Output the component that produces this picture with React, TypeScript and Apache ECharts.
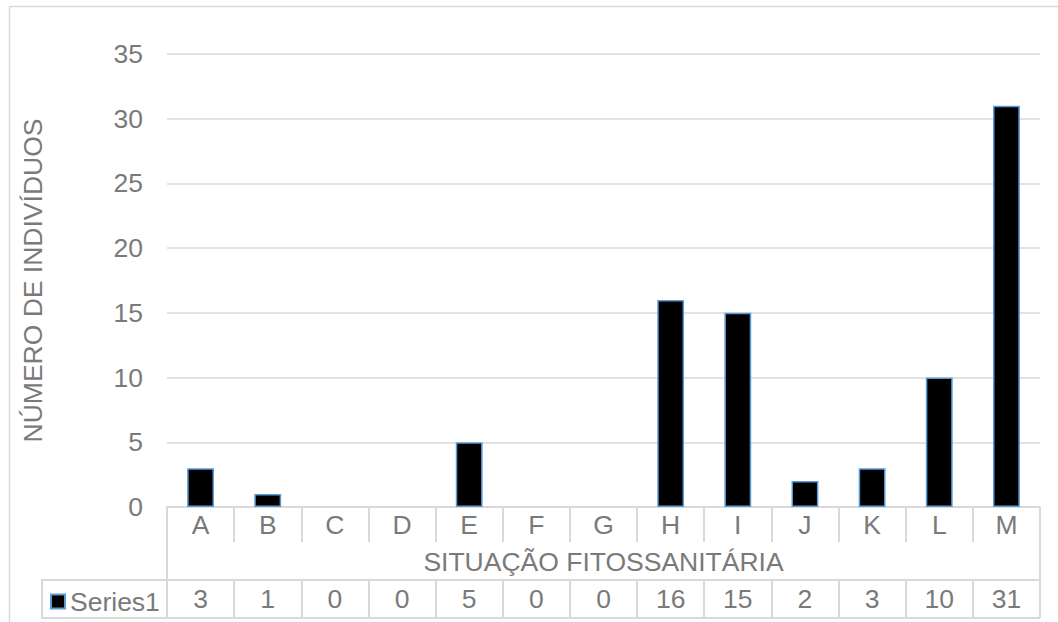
import React, { useEffect, useRef } from "react";
import * as echarts from "echarts";

const categories = ["A", "B", "C", "D", "E", "F", "G", "H", "I", "J", "K", "L", "M"];
const values = [3, 1, 0, 0, 5, 0, 0, 16, 15, 2, 3, 10, 31];
const seriesName = "Series1";
const xTitle = "SITUAÇÃO FITOSSANITÁRIA";
const yTitle = "NÚMERO DE INDIVÍDUOS";
const yMin = 0;
const yMax = 35;
const yStep = 5;

const FONT = 'Arial, "Liberation Sans", sans-serif';
const TXT = "#7a7a7a";
const GRID = "#d9d9d9";
const FS = 26.5;

export default function App() {
  const ref = useRef<HTMLDivElement>(null);
  useEffect(() => {
    if (!ref.current) return;
    document.body.style.margin = "0";
    document.documentElement.style.overflow = "hidden";
    document.body.style.overflow = "hidden";
    const chart = echarts.init(ref.current, null, { renderer: "svg" });
    const L = 167, R = 1040, T = 54, B = 507;
    chart.setOption({
      animation: false,
      backgroundColor: "#fff",
      textStyle: { fontFamily: FONT },
      grid: { left: L, right: 1058 - R, top: T, bottom: 622 - B, containLabel: false },
      legend: {
        data: [seriesName],
        left: 45,
        top: 583,
        itemWidth: 14,
        itemHeight: 14,
        icon: "rect",
        textStyle: { fontFamily: FONT, fontSize: FS, color: TXT },
      },
      xAxis: [
        {
          type: "category",
          data: categories,
          position: "bottom",
          axisLine: { show: true, lineStyle: { color: GRID, width: 2 } },
          axisTick: { show: true, length: 35, lineStyle: { color: GRID, width: 2 } },
          axisLabel: { interval: 0, margin: 4, fontSize: FS, color: TXT, fontFamily: FONT },
          name: xTitle,
          nameLocation: "middle",
          nameGap: 41,
          nameTextStyle: { fontSize: FS, color: TXT, fontFamily: FONT },
        },
        {
          type: "category",
          data: categories,
          position: "bottom",
          offset: 73,
          axisLine: { show: true, lineStyle: { color: GRID, width: 2 } },
          axisTick: { show: true, length: 38, lineStyle: { color: GRID, width: 2 } },
          axisLabel: {
            interval: 0,
            margin: 5,
            fontSize: FS,
            color: TXT,
            fontFamily: FONT,
            formatter: (_v: string, i: number) => String(values[i]),
          },
        },
      ],
      yAxis: {
        type: "value",
        min: yMin,
        max: yMax,
        interval: yStep,
        axisLine: { show: false },
        axisTick: { show: false },
        axisLabel: { margin: 24, fontSize: FS, color: TXT, fontFamily: FONT },
        splitLine: { lineStyle: { color: GRID, width: 1.5 } },
        name: yTitle,
        nameLocation: "middle",
        nameGap: 121,
        nameTextStyle: { fontSize: FS, color: TXT, fontFamily: FONT },
      },
      series: [
        {
          name: seriesName,
          type: "bar",
          xAxisIndex: 0,
          data: values.map((v) => (v === 0 ? "-" : v)),
          barWidth: "40%",
          itemStyle: { color: "#000000", borderColor: "#5b9bd5", borderWidth: 1.5 },
        },
      ],
      graphic: [
        {
          type: "line",
          shape: { x1: 9.5, y1: 6.5, x2: 1058, y2: 6.5 },
          style: { stroke: GRID, lineWidth: 1.5 },
          silent: true,
        },
        {
          type: "line",
          shape: { x1: 9.5, y1: 6.5, x2: 9.5, y2: 622 },
          style: { stroke: GRID, lineWidth: 1.5 },
          silent: true,
        },
        {
          type: "rect",
          shape: { x: 42, y: 580, width: L - 42, height: 38 },
          style: { fill: "none", stroke: GRID, lineWidth: 2 },
          silent: true,
        },
        {
          type: "line",
          shape: { x1: L, y1: B, x2: L, y2: 618 },
          style: { stroke: GRID, lineWidth: 2 },
          silent: true,
        },
        {
          type: "line",
          shape: { x1: R, y1: B, x2: R, y2: 618 },
          style: { stroke: GRID, lineWidth: 2 },
          silent: true,
        },
        {
          type: "line",
          shape: { x1: 42, y1: 618, x2: R, y2: 618 },
          style: { stroke: GRID, lineWidth: 2 },
          silent: true,
        },
      ],
    });
    return () => chart.dispose();
  }, []);
  return (
    <div
      ref={ref}
      style={{ position: "absolute", left: 0, top: 0, width: 1058, height: 622 }}
    />
  );
}
